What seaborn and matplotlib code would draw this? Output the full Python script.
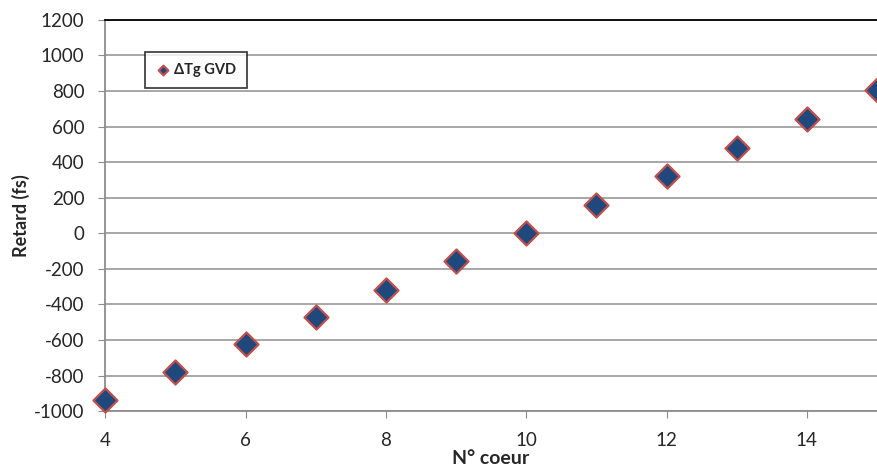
import pandas as pd
import matplotlib.pyplot as plt
import seaborn as sns

# Data
coeur = [4, 5, 6, 7, 8, 9, 10, 11, 12, 13, 14, 15]
retard = [-935, -780, -625, -470, -318, -158, 0, 158, 320, 480, 645, 805]
y_ticks = list(range(-1000, 1201, 200))
x_ticks = [4, 6, 8, 10, 12, 14]

df = pd.DataFrame({'coeur': coeur, 'retard': retard})

sns.set_style('white')
plt.rcParams['font.family'] = ['Lato', 'DejaVu Sans']
plt.rcParams['axes.unicode_minus'] = False

fig = plt.figure(figsize=(8.77, 4.72), dpi=100)
ax = fig.add_axes([0.12, 0.129, 0.88, 0.829])

ax.set_axisbelow(True)
ax.grid(axis='y', color='#a0a0a0', linewidth=1.3)

sns.scatterplot(data=df, x='coeur', y='retard', ax=ax, marker='D', s=150,
                color='#1f497d', edgecolor='#c0504d', linewidth=1.6,
                label='ΔTg GVD', clip_on=False, zorder=3)

ax.set_xlim(4, 15)
ax.set_ylim(-1000, 1200)
ax.set_xticks(x_ticks)
ax.set_yticks(y_ticks)
ax.tick_params(axis='both', labelsize=13.5, length=5, color='#8c8c8c',
               direction='out', bottom=True, left=True, pad=10)

for side in ['left', 'bottom']:
    ax.spines[side].set_color('#8c8c8c')
    ax.spines[side].set_linewidth(1.3)
ax.spines['top'].set_color('black')
ax.spines['top'].set_linewidth(1.3)
ax.spines['right'].set_visible(False)

ax.set_xlabel('N° coeur', fontsize=14, fontweight='bold', labelpad=1)
ax.set_ylabel('Retard (fs)', fontsize=13, fontweight='bold', labelpad=3)

leg = ax.legend(loc='upper left', bbox_to_anchor=(0.052, 0.918), frameon=True,
                fancybox=False, edgecolor='black', markerscale=0.4,
                handletextpad=0.3, borderpad=0.75, handlelength=0.9,
                borderaxespad=0, prop={'weight': 'bold', 'size': 10.5})
leg.get_frame().set_linewidth(1.2)

fig.savefig('out.png', dpi=100)
